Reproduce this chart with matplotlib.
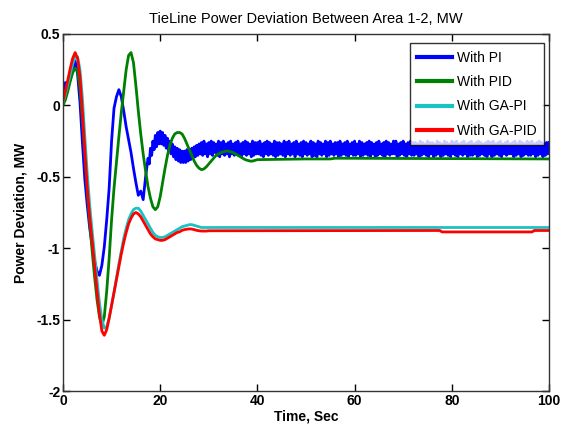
import matplotlib
matplotlib.use("Agg")
import matplotlib.pyplot as plt
import numpy as np

# ------------------------------------------------------------------
# Tie-line power deviation between area 1 and area 2 (MW)
# ------------------------------------------------------------------

# sample times (s)
t_fine = np.arange(0, 30.5, 0.5)          # 0 .. 30 s
t_green = np.arange(0, 40.5, 0.5)         # 0 .. 40 s
t_blue_a = np.arange(0, 17.5, 0.5)        # 0 .. 17 s
t_blue_b = np.arange(17.5, 100.01, 0.25)  # 17.5 .. 100 s (ripple part)

# With PI (blue) : first swing, 0.5 s samples
pi_start = [
    0.10, 0.16, 0.12, 0.19, 0.24, 0.31, 0.22, 0.02, -0.26, -0.52,
    -0.70, -0.86, -0.98, -1.09, -1.16, -1.19, -1.12, -0.99, -0.80, -0.58,
    -0.25, -0.02, 0.06, 0.11, 0.06, -0.04, -0.15, -0.24, -0.33, -0.44,
    -0.54, -0.63, -0.60, -0.66, -0.50,
]
# With PI (blue) : ripple around the settling value, 0.25 s samples
pi_ripple = [
    -0.37, -0.41, -0.30, -0.35, -0.25, -0.31, -0.21, -0.29, -0.19, -0.27, -0.18,
    -0.27, -0.19, -0.28, -0.21, -0.30, -0.23, -0.32, -0.25, -0.34, -0.27,
    -0.36, -0.29, -0.38, -0.30, -0.39, -0.31, -0.40, -0.32, -0.40, -0.32,
    -0.40, -0.31, -0.39, -0.31, -0.38, -0.30, -0.37, -0.29, -0.36, -0.28, -0.35, -0.27,
    -0.34, -0.26, -0.35, -0.25, -0.34, -0.27, -0.36, -0.26, -0.34, -0.25, -0.35, -0.26, -0.33, -0.27, -0.35, -0.25,
    -0.36, -0.26, -0.34, -0.25, -0.35, -0.27, -0.34, -0.26, -0.36, -0.25, -0.34, -0.27, -0.35, -0.26, -0.34, -0.25,
    -0.35, -0.27, -0.36, -0.26, -0.34, -0.25, -0.35, -0.26, -0.34, -0.27, -0.36, -0.25, -0.35, -0.26, -0.34, -0.26,
    -0.34, -0.25, -0.35, -0.27, -0.36, -0.26, -0.34, -0.25, -0.35, -0.26, -0.34, -0.27, -0.35, -0.25, -0.36, -0.26,
    -0.35, -0.26, -0.34, -0.27, -0.35, -0.25, -0.36, -0.26, -0.34, -0.25, -0.35, -0.27, -0.34, -0.26, -0.36, -0.25,
    -0.34, -0.27, -0.35, -0.26, -0.36, -0.25, -0.34, -0.26, -0.35, -0.27, -0.34, -0.25, -0.36, -0.26, -0.35, -0.27,
    -0.36, -0.25, -0.34, -0.26, -0.35, -0.27, -0.34, -0.25, -0.36, -0.26, -0.35, -0.25, -0.34, -0.27, -0.35, -0.26,
    -0.34, -0.26, -0.36, -0.25, -0.35, -0.27, -0.34, -0.26, -0.35, -0.25, -0.36, -0.27, -0.34, -0.26, -0.35, -0.25,
    -0.35, -0.27, -0.34, -0.25, -0.36, -0.26, -0.35, -0.27, -0.34, -0.26, -0.35, -0.25, -0.36, -0.26, -0.34, -0.27,
    -0.36, -0.26, -0.35, -0.25, -0.34, -0.27, -0.35, -0.26, -0.36, -0.25, -0.34, -0.26, -0.35, -0.27, -0.34, -0.25,
    -0.34, -0.25, -0.36, -0.27, -0.35, -0.26, -0.34, -0.25, -0.35, -0.27, -0.36, -0.26, -0.34, -0.25, -0.35, -0.26,
    -0.35, -0.26, -0.34, -0.27, -0.36, -0.25, -0.35, -0.26, -0.34, -0.27, -0.35, -0.25, -0.36, -0.26, -0.34, -0.26,
    -0.36, -0.27, -0.35, -0.25, -0.34, -0.26, -0.36, -0.27, -0.35, -0.25, -0.34, -0.26, -0.35, -0.27, -0.36, -0.25,
    -0.34, -0.26, -0.35, -0.25, -0.36, -0.27, -0.34, -0.26, -0.35, -0.25, -0.34, -0.27, -0.36, -0.26, -0.35, -0.25,
    -0.35, -0.27, -0.34, -0.26, -0.36, -0.25, -0.35, -0.26, -0.34, -0.27, -0.35, -0.26, -0.36, -0.25, -0.34, -0.26,
    -0.36, -0.25, -0.35, -0.27, -0.34, -0.26, -0.35, -0.25, -0.36, -0.27, -0.34, -0.26, -0.35, -0.25, -0.34, -0.27,
    -0.34, -0.26, -0.36, -0.25, -0.35, -0.27, -0.34, -0.25, -0.36, -0.26, -0.35, -0.27, -0.34, -0.25, -0.35, -0.26,
    -0.35, -0.25, -0.34, -0.27, -0.36, -0.26, -0.35, -0.25, -0.34, -0.26, -0.36, -0.27, -0.35, -0.26, -0.34, -0.26,
]

# With PID (green) : 0.5 s samples over 0..40 s, then settled value
pid_resp = [
    0.00, 0.04, 0.10, 0.17, 0.23, 0.26, 0.24, 0.12, -0.10, -0.35,
    -0.60, -0.82, -1.02, -1.20, -1.36, -1.48, -1.54, -1.48, -1.30, -1.07,
    -0.80, -0.58, -0.40, -0.22, -0.05, 0.10, 0.25, 0.35, 0.37, 0.30,
    0.14, -0.04, -0.20, -0.34, -0.46, -0.57, -0.65, -0.71, -0.73, -0.71,
    -0.64, -0.54, -0.44, -0.35, -0.28, -0.23, -0.20, -0.19, -0.19, -0.20,
    -0.23, -0.27, -0.31, -0.35, -0.39, -0.42, -0.44, -0.45, -0.445, -0.43,
    -0.41, -0.39, -0.37, -0.35, -0.34, -0.33, -0.325, -0.32, -0.32, -0.325,
    -0.33, -0.34, -0.35, -0.36, -0.37, -0.38, -0.385, -0.39, -0.39, -0.385,
    -0.38,
]
pid_tail_t = [50, 55, 56, 100]
pid_tail = [-0.375, -0.375, -0.37, -0.375]

# With GA-PI (cyan) : 0.5 s samples over 0..30 s, then settled value
gapi_resp = [
    0.02, 0.08, 0.15, 0.22, 0.29, 0.34, 0.34, 0.25, 0.05, -0.22,
    -0.48, -0.70, -0.88, -1.05, -1.22, -1.38, -1.50, -1.56, -1.55, -1.49,
    -1.40, -1.31, -1.21, -1.11, -1.02, -0.93, -0.86, -0.80, -0.76, -0.73,
    -0.72, -0.72, -0.74, -0.77, -0.80, -0.83, -0.86, -0.89, -0.91, -0.92,
    -0.925, -0.925, -0.92, -0.91, -0.90, -0.89, -0.88, -0.87, -0.86, -0.85,
    -0.845, -0.84, -0.835, -0.835, -0.84, -0.845, -0.85, -0.855, -0.855, -0.855,
    -0.855,
]
gapi_tail_t = [100]
gapi_tail = [-0.855]

# With GA-PID (red) : 0.5 s samples over 0..30 s, then settled value
gapid_resp = [
    0.03, 0.10, 0.18, 0.26, 0.33, 0.37, 0.33, 0.20, -0.05, -0.32,
    -0.58, -0.78, -0.95, -1.12, -1.30, -1.46, -1.58, -1.61, -1.57, -1.49,
    -1.40, -1.31, -1.22, -1.13, -1.04, -0.96, -0.89, -0.83, -0.79, -0.76,
    -0.75, -0.76, -0.78, -0.81, -0.84, -0.87, -0.90, -0.92, -0.935, -0.94,
    -0.945, -0.945, -0.94, -0.93, -0.92, -0.91, -0.90, -0.89, -0.885, -0.875,
    -0.87, -0.867, -0.865, -0.866, -0.87, -0.875, -0.878, -0.88, -0.88, -0.88,
    -0.878,
]
gapid_tail_t = [77.5, 78, 96.5, 97, 100]
gapid_tail = [-0.876, -0.886, -0.886, -0.876, -0.876]

x_ticks = [0, 20, 40, 60, 80, 100]
y_ticks = [-2, -1.5, -1, -0.5, 0, 0.5]
y_tick_labels = ["-2", "-1.5", "-1", "-0.5", "0", "0.5"]

plt.rcParams["font.family"] = ["Liberation Sans", "DejaVu Sans"]

fig = plt.figure(figsize=(5.70, 4.38), dpi=100)
ax = fig.add_axes([0.1105, 0.1073, 0.8526, 0.8151])

# the ripple list runs a little past 100 s, keep only what fits the time grid
pi_t = np.concatenate([t_blue_a, t_blue_b])
pi_v = (pi_start + pi_ripple)[:len(pi_t)]
ax.plot(pi_t, pi_v, color="#0000ff", lw=2.0, label="With PI")
ax.plot(np.concatenate([t_green, pid_tail_t]), pid_resp + pid_tail,
        color="#008000", lw=2.0, label="With PID")
ax.plot(np.concatenate([t_fine, gapi_tail_t]), gapi_resp + gapi_tail,
        color="#19c3c3", lw=2.0, label="With GA-PI")
ax.plot(np.concatenate([t_fine, gapid_tail_t]), gapid_resp + gapid_tail,
        color="#ff0000", lw=2.0, label="With GA-PID")

ax.set_xlim(0, 100)
ax.set_ylim(-2, 0.5)
ax.set_xticks(x_ticks)
ax.set_yticks(y_ticks)
ax.set_yticklabels(y_tick_labels)
ax.tick_params(direction="in", length=5, width=1, top=True, right=True,
               labelsize=10, pad=2)
for lab in ax.get_xticklabels() + ax.get_yticklabels():
    lab.set_fontweight("bold")
for sp in ax.spines.values():
    sp.set_linewidth(1.0)
    sp.set_color("#333333")

ax.set_title("TieLine Power Deviation Between Area 1-2, MW", fontsize=10.5, pad=8)
ax.set_xlabel("Time, Sec", fontsize=10, fontweight="bold", labelpad=1)
ax.set_ylabel("Power Deviation, MW", fontsize=10, fontweight="bold", labelpad=6)

leg = ax.legend(loc="upper right", bbox_to_anchor=(0.99, 0.975), fontsize=10,
                frameon=True, fancybox=False, edgecolor="black",
                handlelength=2.5, handletextpad=0.35, labelspacing=0.75,
                borderpad=0.55, borderaxespad=0.0)
leg.get_frame().set_linewidth(1.0)
for line in leg.get_lines():
    line.set_linewidth(3.0)

fig.savefig("out.png", dpi=100)
